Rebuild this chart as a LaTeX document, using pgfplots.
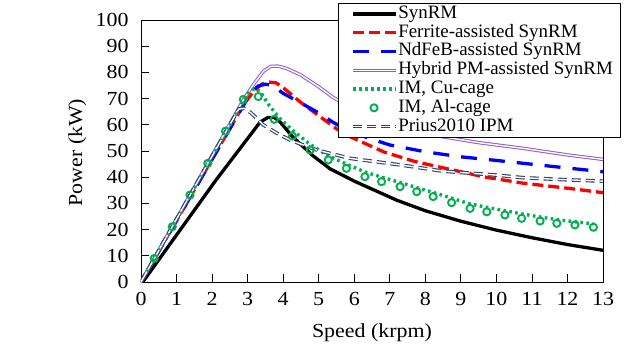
\documentclass[border=0pt]{standalone}
\usepackage{pgfplots}
\pgfplotsset{compat=1.18}
\usepackage{fontspec}
\setmainfont{Liberation Serif}
\newfontfamily\widefont[FakeStretch=1.1]{Liberation Serif}
\definecolor{fred}{RGB}{255,0,0}
\definecolor{nblue}{RGB}{0,0,255}
\definecolor{hpurple}{RGB}{145,90,200}
\definecolor{imgreen}{RGB}{0,176,80}
\definecolor{navy}{RGB}{50,65,110}
\pgfplotsset{markonlylegend/.style={legend image code/.code={\path (0bp,0bp) (49bp,0bp); \draw[##1] plot coordinates {(27bp,0bp)};}}}
\begin{document}
\begin{tikzpicture}
\begin{axis}[
  name=ax,
  scale only axis,
  width=462bp, height=262bp,
  xmin=0, xmax=13, ymin=0, ymax=100,
  xtick={0,1,...,13}, ytick={0,10,...,100},
  tick align=inside,
  major tick length=8bp,
  tick style={black, line width=0.8bp},
  xtick pos=bottom, ytick pos=left,
  axis line style={black, line width=0.8bp},
  /pgf/number format/assume math mode=true,
  tick label style={font=\widefont\fontsize{20}{21}\selectfont},
  yticklabel style={xshift=-9bp},
  xticklabel style={yshift=-7bp},
  xlabel={Speed (krpm)},
  ylabel={Power (kW)},
  label style={font=\widefont\fontsize{20}{21}\selectfont},
  xlabel style={at={(axis description cs:0.5,-0.195)}, anchor=center},
  ylabel style={at={(axis description cs:-0.138,0.494)}, anchor=center},
  legend cell align=left,
  legend style={at={(0.426,1.065)}, anchor=north west,
    font=\fontsize{19}{19}\selectfont,
    draw=black, line width=0.8bp, fill=white,
    inner xsep=7bp, inner ysep=1.5bp,
    row sep=0.8bp,
    nodes={inner sep=0.5bp, text height=13bp, text depth=4bp}},
  legend image code/.code={\path (0bp,0bp); \draw[#1] (6bp,0bp) -- (49bp,0bp);},
]
\addplot[black, line width=3.3bp] coordinates {
(0,0) (0.05,0) (2.11,38.9) (3.35,61) (3.57,62.8) (3.75,62.8) (3.9,61.3) (4.25,55.7) (4.8,48.6) (5.32,43.2) (6,38.5) (7.2,31.2) (8,27.2) (9,23.2) (10,19.8) (11,16.9) (12,14.3) (13,12.1)};
\addlegendentry{SynRM}
\addplot[fred, line width=3.3bp, dash pattern=on 11bp off 5bp] coordinates {
(0,0) (2.9,68) (3.2,73.3) (3.4,75.5) (3.6,76.3) (3.8,76) (4.0,74.2) (4.5,68.5) (5,63.5) (5.5,58.5) (5.88,55.5) (6.82,49.7) (7.7,46) (8.69,43) (9.7,40) (10.76,37.7) (12,35.8) (13,34.1)};
\addlegendentry{Ferrite-assisted SynRM}
\addplot[nblue, line width=3.3bp, dash pattern=on 16bp off 12bp] coordinates {
(0,0) (3.1,72.5) (3.3,74.8) (3.5,75.5) (3.7,75) (4.0,72) (4.5,68.3) (4.94,65) (5.4,61) (5.88,57.4) (6.5,54.5) (7.0,52.3) (8,49.7) (8.98,47.8) (10,46.4) (10.76,45.3) (12,43.5) (13,42.1)};
\addlegendentry{NdFeB-assisted SynRM}
\addplot[hpurple, line width=1bp, double=white, double distance=1.4bp] coordinates {
(0,0) (2.9,70) (3.2,76) (3.45,80.5) (3.65,82.3) (3.85,82.4) (4.1,81.5) (4.5,79) (5,74.5) (5.4,70.5) (6,66) (7,60.8) (8,57) (8.41,55.6) (9.5,53.2) (10.76,51) (12,48.5) (13,46.8)};
\addlegendentry{Hybrid PM-assisted SynRM}
\addplot[imgreen, line width=3.4bp, dash pattern=on 2.6bp off 3.4bp] coordinates {
(0,0) (3.0,71.8) (3.18,73.8) (3.35,72.8) (3.6,67.5) (3.9,62.5) (4.3,57.5) (4.76,52.5) (5.27,48.2) (5.78,45) (6.3,42) (6.77,40) (7.29,38) (7.76,36) (8.22,34.2) (8.74,32) (9.26,29.8) (9.73,28.5) (10.24,27.2) (10.71,26) (11.23,24.8) (11.7,23.8) (12.21,23) (12.73,22.2)};
\addlegendentry{IM, Cu-cage}
\addplot[imgreen, only marks, mark=o, mark size=3.6bp, line width=1.9bp, markonlylegend] coordinates {
(0.37,9) (0.88,21.1) (1.38,33.2) (1.88,45.3) (2.38,57.6) (2.88,69.7) (3.3,70.8) (3.75,62.1) (4.26,55.7) (4.76,50.4) (5.27,46.6) (5.78,43.4) (6.3,40.2) (6.77,38.3) (7.29,36.4) (7.76,34.5) (8.22,32.6) (8.74,30.3) (9.26,28.1) (9.73,26.8) (10.24,25.6) (10.71,24.3) (11.23,23.3) (11.7,22.4) (12.21,21.8) (12.73,20.9)};
\addlegendentry{IM, Al-cage}
\addplot[navy, line width=1.1bp, double=white, double distance=1.4bp, dash pattern=on 9bp off 5bp] coordinates {
(0,0) (2.75,66) (2.9,66.3) (3.1,64.5) (3.44,60) (3.8,57) (4.19,54.2) (4.94,50.4) (5.88,47.2) (7.29,44.7) (8.5,42.3) (10,40.8) (10.76,39.8) (12,39) (13,38.5)};
\addlegendentry{Prius2010 IPM}
\end{axis}
\pgfresetboundingbox
\path[use as bounding box] ([xshift=-141bp,yshift=-70bp]ax.south west) rectangle ++(637bp,352bp);
\end{tikzpicture}
\end{document}
